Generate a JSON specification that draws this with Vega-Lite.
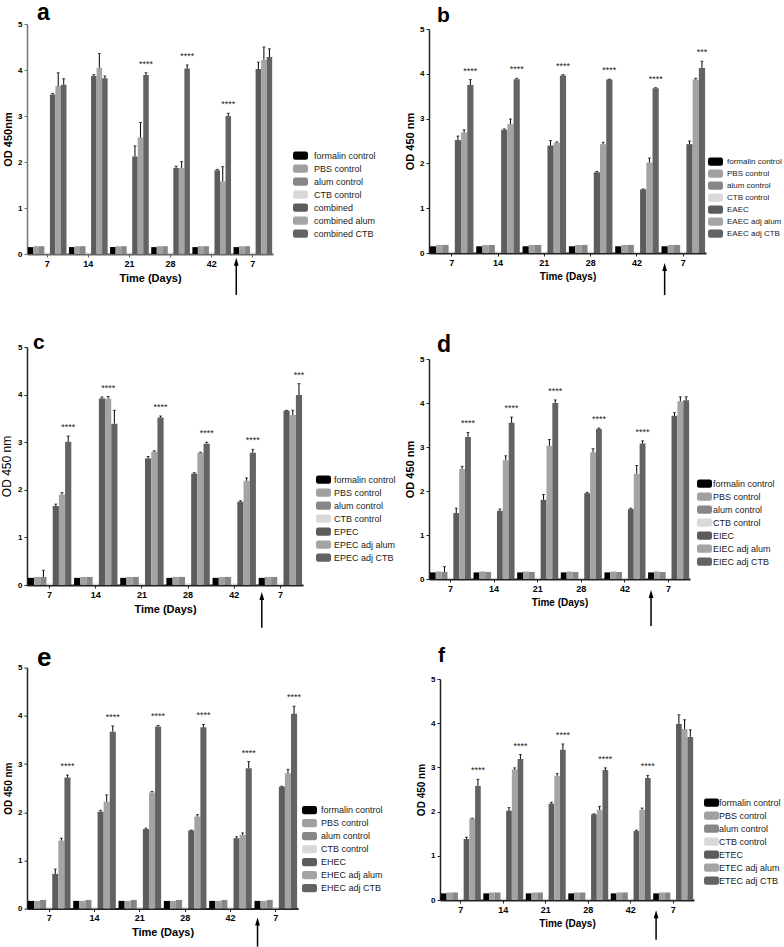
{
"$schema": "https://vega.github.io/schema/vega-lite/v6.json",
"padding": {"left": 0, "top": 1, "right": 0, "bottom": 0},
"background": "white",
"datasets": {"bars": [
{"p":"a","g":"7","k":0,"s":"formalin control","v":0.15,"e":0},{"p":"a","g":"7","k":1,"s":"PBS control","v":0.17,"e":0},{"p":"a","g":"7","k":2,"s":"alum control","v":0.17,"e":0},{"p":"a","g":"7","k":3,"s":"CTB control","v":0.03,"e":0},{"p":"a","g":"7","k":4,"s":"combined","v":3.47,"e":0.02},{"p":"a","g":"7","k":5,"s":"combined alum","v":3.65,"e":0.29},{"p":"a","g":"7","k":6,"s":"combined CTB","v":3.68,"e":0.13},
{"p":"a","g":"14","k":0,"s":"formalin control","v":0.15,"e":0},{"p":"a","g":"14","k":1,"s":"PBS control","v":0.17,"e":0},{"p":"a","g":"14","k":2,"s":"alum control","v":0.17,"e":0},{"p":"a","g":"14","k":3,"s":"CTB control","v":0.03,"e":0},{"p":"a","g":"14","k":4,"s":"combined","v":3.87,"e":0.03},{"p":"a","g":"14","k":5,"s":"combined alum","v":4.05,"e":0.31},{"p":"a","g":"14","k":6,"s":"combined CTB","v":3.82,"e":0.05},
{"p":"a","g":"21","k":0,"s":"formalin control","v":0.15,"e":0},{"p":"a","g":"21","k":1,"s":"PBS control","v":0.17,"e":0},{"p":"a","g":"21","k":2,"s":"alum control","v":0.17,"e":0},{"p":"a","g":"21","k":3,"s":"CTB control","v":0.03,"e":0},{"p":"a","g":"21","k":4,"s":"combined","v":2.12,"e":0.23},{"p":"a","g":"21","k":5,"s":"combined alum","v":2.53,"e":0.33},{"p":"a","g":"21","k":6,"s":"combined CTB","v":3.89,"e":0.05,"sig":"****"},
{"p":"a","g":"28","k":0,"s":"formalin control","v":0.15,"e":0},{"p":"a","g":"28","k":1,"s":"PBS control","v":0.17,"e":0},{"p":"a","g":"28","k":2,"s":"alum control","v":0.17,"e":0},{"p":"a","g":"28","k":3,"s":"CTB control","v":0.03,"e":0},{"p":"a","g":"28","k":4,"s":"combined","v":1.87,"e":0.04},{"p":"a","g":"28","k":5,"s":"combined alum","v":1.87,"e":0.14},{"p":"a","g":"28","k":6,"s":"combined CTB","v":4.03,"e":0.08,"sig":"****"},
{"p":"a","g":"42","k":0,"s":"formalin control","v":0.15,"e":0},{"p":"a","g":"42","k":1,"s":"PBS control","v":0.17,"e":0},{"p":"a","g":"42","k":2,"s":"alum control","v":0.17,"e":0},{"p":"a","g":"42","k":3,"s":"CTB control","v":0.03,"e":0},{"p":"a","g":"42","k":4,"s":"combined","v":1.82,"e":0.02},{"p":"a","g":"42","k":5,"s":"combined alum","v":1.58,"e":0.32},{"p":"a","g":"42","k":6,"s":"combined CTB","v":3.0,"e":0.06,"sig":"****"},
{"p":"a","g":"7b","k":0,"s":"formalin control","v":0.15,"e":0},{"p":"a","g":"7b","k":1,"s":"PBS control","v":0.17,"e":0},{"p":"a","g":"7b","k":2,"s":"alum control","v":0.17,"e":0},{"p":"a","g":"7b","k":3,"s":"CTB control","v":0.03,"e":0},{"p":"a","g":"7b","k":4,"s":"combined","v":4.02,"e":0.15},{"p":"a","g":"7b","k":5,"s":"combined alum","v":4.22,"e":0.28},{"p":"a","g":"7b","k":6,"s":"combined CTB","v":4.28,"e":0.18},

{"p":"b","g":"7","k":0,"s":"formalin control","v":0.15,"e":0},{"p":"b","g":"7","k":1,"s":"PBS control","v":0.18,"e":0},{"p":"b","g":"7","k":2,"s":"alum control","v":0.18,"e":0},{"p":"b","g":"7","k":3,"s":"CTB control","v":0.03,"e":0},{"p":"b","g":"7","k":4,"s":"EAEC","v":2.52,"e":0.09},{"p":"b","g":"7","k":5,"s":"EAEC adj alum","v":2.69,"e":0.06},{"p":"b","g":"7","k":6,"s":"EAEC adj CTB","v":3.75,"e":0.12,"sig":"****"},
{"p":"b","g":"14","k":0,"s":"formalin control","v":0.15,"e":0},{"p":"b","g":"14","k":1,"s":"PBS control","v":0.18,"e":0},{"p":"b","g":"14","k":2,"s":"alum control","v":0.18,"e":0},{"p":"b","g":"14","k":3,"s":"CTB control","v":0.03,"e":0},{"p":"b","g":"14","k":4,"s":"EAEC","v":2.75,"e":0.02},{"p":"b","g":"14","k":5,"s":"EAEC adj alum","v":2.88,"e":0.11},{"p":"b","g":"14","k":6,"s":"EAEC adj CTB","v":3.88,"e":0.02,"sig":"****"},
{"p":"b","g":"21","k":0,"s":"formalin control","v":0.15,"e":0},{"p":"b","g":"21","k":1,"s":"PBS control","v":0.18,"e":0},{"p":"b","g":"21","k":2,"s":"alum control","v":0.18,"e":0},{"p":"b","g":"21","k":3,"s":"CTB control","v":0.03,"e":0},{"p":"b","g":"21","k":4,"s":"EAEC","v":2.40,"e":0.11},{"p":"b","g":"21","k":5,"s":"EAEC adj alum","v":2.46,"e":0.02},{"p":"b","g":"21","k":6,"s":"EAEC adj CTB","v":3.96,"e":0.02,"sig":"****"},
{"p":"b","g":"28","k":0,"s":"formalin control","v":0.15,"e":0},{"p":"b","g":"28","k":1,"s":"PBS control","v":0.18,"e":0},{"p":"b","g":"28","k":2,"s":"alum control","v":0.18,"e":0},{"p":"b","g":"28","k":3,"s":"CTB control","v":0.03,"e":0},{"p":"b","g":"28","k":4,"s":"EAEC","v":1.80,"e":0.02},{"p":"b","g":"28","k":5,"s":"EAEC adj alum","v":2.43,"e":0.04},{"p":"b","g":"28","k":6,"s":"EAEC adj CTB","v":3.87,"e":0.01,"sig":"****"},
{"p":"b","g":"42","k":0,"s":"formalin control","v":0.15,"e":0},{"p":"b","g":"42","k":1,"s":"PBS control","v":0.18,"e":0},{"p":"b","g":"42","k":2,"s":"alum control","v":0.18,"e":0},{"p":"b","g":"42","k":3,"s":"CTB control","v":0.03,"e":0},{"p":"b","g":"42","k":4,"s":"EAEC","v":1.42,"e":0.01},{"p":"b","g":"42","k":5,"s":"EAEC adj alum","v":2.02,"e":0.10},{"p":"b","g":"42","k":6,"s":"EAEC adj CTB","v":3.68,"e":0.01,"sig":"****"},
{"p":"b","g":"7b","k":0,"s":"formalin control","v":0.15,"e":0},{"p":"b","g":"7b","k":1,"s":"PBS control","v":0.18,"e":0},{"p":"b","g":"7b","k":2,"s":"alum control","v":0.18,"e":0},{"p":"b","g":"7b","k":3,"s":"CTB control","v":0.03,"e":0},{"p":"b","g":"7b","k":4,"s":"EAEC","v":2.43,"e":0.07},{"p":"b","g":"7b","k":5,"s":"EAEC adj alum","v":3.87,"e":0.03},{"p":"b","g":"7b","k":6,"s":"EAEC adj CTB","v":4.13,"e":0.15,"sig":"***"},

{"p":"c","g":"7","k":0,"s":"formalin control","v":0.15,"e":0},{"p":"c","g":"7","k":1,"s":"PBS control","v":0.17,"e":0},{"p":"c","g":"7","k":2,"s":"alum control","v":0.17,"e":0.14},{"p":"c","g":"7","k":3,"s":"CTB control","v":0.03,"e":0},{"p":"c","g":"7","k":4,"s":"EPEC","v":1.66,"e":0.04},{"p":"c","g":"7","k":5,"s":"EPEC adj alum","v":1.90,"e":0.04},{"p":"c","g":"7","k":6,"s":"EPEC adj CTB","v":3.01,"e":0.12,"sig":"****"},
{"p":"c","g":"14","k":0,"s":"formalin control","v":0.15,"e":0},{"p":"c","g":"14","k":1,"s":"PBS control","v":0.17,"e":0},{"p":"c","g":"14","k":2,"s":"alum control","v":0.17,"e":0},{"p":"c","g":"14","k":3,"s":"CTB control","v":0.03,"e":0},{"p":"c","g":"14","k":4,"s":"EPEC","v":3.92,"e":0.03},{"p":"c","g":"14","k":5,"s":"EPEC adj alum","v":3.92,"e":0.04,"sig":"****"},{"p":"c","g":"14","k":6,"s":"EPEC adj CTB","v":3.39,"e":0.28},
{"p":"c","g":"21","k":0,"s":"formalin control","v":0.15,"e":0},{"p":"c","g":"21","k":1,"s":"PBS control","v":0.17,"e":0},{"p":"c","g":"21","k":2,"s":"alum control","v":0.17,"e":0},{"p":"c","g":"21","k":3,"s":"CTB control","v":0.03,"e":0},{"p":"c","g":"21","k":4,"s":"EPEC","v":2.66,"e":0.04},{"p":"c","g":"21","k":5,"s":"EPEC adj alum","v":2.80,"e":0.02},{"p":"c","g":"21","k":6,"s":"EPEC adj CTB","v":3.52,"e":0.03,"sig":"****"},
{"p":"c","g":"28","k":0,"s":"formalin control","v":0.15,"e":0},{"p":"c","g":"28","k":1,"s":"PBS control","v":0.17,"e":0},{"p":"c","g":"28","k":2,"s":"alum control","v":0.17,"e":0},{"p":"c","g":"28","k":3,"s":"CTB control","v":0.03,"e":0},{"p":"c","g":"28","k":4,"s":"EPEC","v":2.34,"e":0.02},{"p":"c","g":"28","k":5,"s":"EPEC adj alum","v":2.78,"e":0.01},{"p":"c","g":"28","k":6,"s":"EPEC adj CTB","v":2.97,"e":0.03,"sig":"****"},
{"p":"c","g":"42","k":0,"s":"formalin control","v":0.15,"e":0},{"p":"c","g":"42","k":1,"s":"PBS control","v":0.17,"e":0},{"p":"c","g":"42","k":2,"s":"alum control","v":0.17,"e":0},{"p":"c","g":"42","k":3,"s":"CTB control","v":0.03,"e":0},{"p":"c","g":"42","k":4,"s":"EPEC","v":1.75,"e":0.02},{"p":"c","g":"42","k":5,"s":"EPEC adj alum","v":2.19,"e":0.06},{"p":"c","g":"42","k":6,"s":"EPEC adj CTB","v":2.78,"e":0.07,"sig":"****"},
{"p":"c","g":"7b","k":0,"s":"formalin control","v":0.15,"e":0},{"p":"c","g":"7b","k":1,"s":"PBS control","v":0.17,"e":0},{"p":"c","g":"7b","k":2,"s":"alum control","v":0.17,"e":0},{"p":"c","g":"7b","k":3,"s":"CTB control","v":0.03,"e":0},{"p":"c","g":"7b","k":4,"s":"EPEC","v":3.66,"e":0.01},{"p":"c","g":"7b","k":5,"s":"EPEC adj alum","v":3.57,"e":0.10},{"p":"c","g":"7b","k":6,"s":"EPEC adj CTB","v":3.99,"e":0.24,"sig":"***"},

{"p":"d","g":"7","k":0,"s":"formalin control","v":0.15,"e":0},{"p":"d","g":"7","k":1,"s":"PBS control","v":0.17,"e":0},{"p":"d","g":"7","k":2,"s":"alum control","v":0.16,"e":0.12},{"p":"d","g":"7","k":3,"s":"CTB control","v":0.03,"e":0},{"p":"d","g":"7","k":4,"s":"EIEC","v":1.50,"e":0.11},{"p":"d","g":"7","k":5,"s":"EIEC adj alum","v":2.50,"e":0.06},{"p":"d","g":"7","k":6,"s":"EIEC adj CTB","v":3.23,"e":0.10,"sig":"****"},
{"p":"d","g":"14","k":0,"s":"formalin control","v":0.15,"e":0},{"p":"d","g":"14","k":1,"s":"PBS control","v":0.17,"e":0},{"p":"d","g":"14","k":2,"s":"alum control","v":0.16,"e":0},{"p":"d","g":"14","k":3,"s":"CTB control","v":0.03,"e":0},{"p":"d","g":"14","k":4,"s":"EIEC","v":1.55,"e":0.04},{"p":"d","g":"14","k":5,"s":"EIEC adj alum","v":2.70,"e":0.10},{"p":"d","g":"14","k":6,"s":"EIEC adj CTB","v":3.55,"e":0.13,"sig":"****"},
{"p":"d","g":"21","k":0,"s":"formalin control","v":0.15,"e":0},{"p":"d","g":"21","k":1,"s":"PBS control","v":0.17,"e":0},{"p":"d","g":"21","k":2,"s":"alum control","v":0.16,"e":0},{"p":"d","g":"21","k":3,"s":"CTB control","v":0.03,"e":0},{"p":"d","g":"21","k":4,"s":"EIEC","v":1.80,"e":0.12},{"p":"d","g":"21","k":5,"s":"EIEC adj alum","v":3.03,"e":0.14},{"p":"d","g":"21","k":6,"s":"EIEC adj CTB","v":4.00,"e":0.07,"sig":"****"},
{"p":"d","g":"28","k":0,"s":"formalin control","v":0.15,"e":0},{"p":"d","g":"28","k":1,"s":"PBS control","v":0.17,"e":0},{"p":"d","g":"28","k":2,"s":"alum control","v":0.16,"e":0},{"p":"d","g":"28","k":3,"s":"CTB control","v":0.03,"e":0},{"p":"d","g":"28","k":4,"s":"EIEC","v":1.95,"e":0.02},{"p":"d","g":"28","k":5,"s":"EIEC adj alum","v":2.88,"e":0.08},{"p":"d","g":"28","k":6,"s":"EIEC adj CTB","v":3.41,"e":0.02,"sig":"****"},
{"p":"d","g":"42","k":0,"s":"formalin control","v":0.15,"e":0},{"p":"d","g":"42","k":1,"s":"PBS control","v":0.17,"e":0},{"p":"d","g":"42","k":2,"s":"alum control","v":0.16,"e":0},{"p":"d","g":"42","k":3,"s":"CTB control","v":0.03,"e":0},{"p":"d","g":"42","k":4,"s":"EIEC","v":1.59,"e":0.02},{"p":"d","g":"42","k":5,"s":"EIEC adj alum","v":2.39,"e":0.19},{"p":"d","g":"42","k":6,"s":"EIEC adj CTB","v":3.08,"e":0.06,"sig":"****"},
{"p":"d","g":"7b","k":0,"s":"formalin control","v":0.15,"e":0},{"p":"d","g":"7b","k":1,"s":"PBS control","v":0.17,"e":0},{"p":"d","g":"7b","k":2,"s":"alum control","v":0.16,"e":0},{"p":"d","g":"7b","k":3,"s":"CTB control","v":0.03,"e":0},{"p":"d","g":"7b","k":4,"s":"EIEC","v":3.71,"e":0.07},{"p":"d","g":"7b","k":5,"s":"EIEC adj alum","v":4.04,"e":0.10},{"p":"d","g":"7b","k":6,"s":"EIEC adj CTB","v":4.06,"e":0.08},

{"p":"e","g":"7","k":0,"s":"formalin control","v":0.16,"e":0},{"p":"e","g":"7","k":1,"s":"PBS control","v":0.16,"e":0},{"p":"e","g":"7","k":2,"s":"alum control","v":0.18,"e":0},{"p":"e","g":"7","k":3,"s":"CTB control","v":0.03,"e":0},{"p":"e","g":"7","k":4,"s":"EHEC","v":0.72,"e":0.10},{"p":"e","g":"7","k":5,"s":"EHEC adj alum","v":1.41,"e":0.05},{"p":"e","g":"7","k":6,"s":"EHEC adj CTB","v":2.72,"e":0.05,"sig":"****"},
{"p":"e","g":"14","k":0,"s":"formalin control","v":0.16,"e":0},{"p":"e","g":"14","k":1,"s":"PBS control","v":0.16,"e":0},{"p":"e","g":"14","k":2,"s":"alum control","v":0.18,"e":0},{"p":"e","g":"14","k":3,"s":"CTB control","v":0.03,"e":0},{"p":"e","g":"14","k":4,"s":"EHEC","v":2.01,"e":0.03},{"p":"e","g":"14","k":5,"s":"EHEC adj alum","v":2.22,"e":0.14},{"p":"e","g":"14","k":6,"s":"EHEC adj CTB","v":3.67,"e":0.12,"sig":"****"},
{"p":"e","g":"21","k":0,"s":"formalin control","v":0.16,"e":0},{"p":"e","g":"21","k":1,"s":"PBS control","v":0.16,"e":0},{"p":"e","g":"21","k":2,"s":"alum control","v":0.18,"e":0},{"p":"e","g":"21","k":3,"s":"CTB control","v":0.03,"e":0},{"p":"e","g":"21","k":4,"s":"EHEC","v":1.65,"e":0.02},{"p":"e","g":"21","k":5,"s":"EHEC adj alum","v":2.41,"e":0.02},{"p":"e","g":"21","k":6,"s":"EHEC adj CTB","v":3.78,"e":0.02,"sig":"****"},
{"p":"e","g":"28","k":0,"s":"formalin control","v":0.16,"e":0},{"p":"e","g":"28","k":1,"s":"PBS control","v":0.16,"e":0},{"p":"e","g":"28","k":2,"s":"alum control","v":0.18,"e":0},{"p":"e","g":"28","k":3,"s":"CTB control","v":0.03,"e":0},{"p":"e","g":"28","k":4,"s":"EHEC","v":1.62,"e":0.01},{"p":"e","g":"28","k":5,"s":"EHEC adj alum","v":1.91,"e":0.04},{"p":"e","g":"28","k":6,"s":"EHEC adj CTB","v":3.76,"e":0.06,"sig":"****"},
{"p":"e","g":"42","k":0,"s":"formalin control","v":0.16,"e":0},{"p":"e","g":"42","k":1,"s":"PBS control","v":0.16,"e":0},{"p":"e","g":"42","k":2,"s":"alum control","v":0.18,"e":0},{"p":"e","g":"42","k":3,"s":"CTB control","v":0.03,"e":0},{"p":"e","g":"42","k":4,"s":"EHEC","v":1.46,"e":0.03},{"p":"e","g":"42","k":5,"s":"EHEC adj alum","v":1.53,"e":0.04},{"p":"e","g":"42","k":6,"s":"EHEC adj CTB","v":2.91,"e":0.14,"sig":"****"},
{"p":"e","g":"7b","k":0,"s":"formalin control","v":0.16,"e":0},{"p":"e","g":"7b","k":1,"s":"PBS control","v":0.16,"e":0},{"p":"e","g":"7b","k":2,"s":"alum control","v":0.18,"e":0},{"p":"e","g":"7b","k":3,"s":"CTB control","v":0.03,"e":0},{"p":"e","g":"7b","k":4,"s":"EHEC","v":2.53,"e":0.01},{"p":"e","g":"7b","k":5,"s":"EHEC adj alum","v":2.81,"e":0.08},{"p":"e","g":"7b","k":6,"s":"EHEC adj CTB","v":4.04,"e":0.16,"sig":"****"},

{"p":"f","g":"7","k":0,"s":"formalin control","v":0.15,"e":0},{"p":"f","g":"7","k":1,"s":"PBS control","v":0.17,"e":0},{"p":"f","g":"7","k":2,"s":"alum control","v":0.17,"e":0},{"p":"f","g":"7","k":3,"s":"CTB control","v":0.03,"e":0},{"p":"f","g":"7","k":4,"s":"ETEC","v":1.38,"e":0.04},{"p":"f","g":"7","k":5,"s":"ETEC adj alum","v":1.84,"e":0.01},{"p":"f","g":"7","k":6,"s":"ETEC adj CTB","v":2.58,"e":0.15,"sig":"****"},
{"p":"f","g":"14","k":0,"s":"formalin control","v":0.15,"e":0},{"p":"f","g":"14","k":1,"s":"PBS control","v":0.17,"e":0},{"p":"f","g":"14","k":2,"s":"alum control","v":0.17,"e":0},{"p":"f","g":"14","k":3,"s":"CTB control","v":0.03,"e":0},{"p":"f","g":"14","k":4,"s":"ETEC","v":2.02,"e":0.07},{"p":"f","g":"14","k":5,"s":"ETEC adj alum","v":2.95,"e":0.04},{"p":"f","g":"14","k":6,"s":"ETEC adj CTB","v":3.19,"e":0.10,"sig":"****"},
{"p":"f","g":"21","k":0,"s":"formalin control","v":0.15,"e":0},{"p":"f","g":"21","k":1,"s":"PBS control","v":0.17,"e":0},{"p":"f","g":"21","k":2,"s":"alum control","v":0.17,"e":0},{"p":"f","g":"21","k":3,"s":"CTB control","v":0.03,"e":0},{"p":"f","g":"21","k":4,"s":"ETEC","v":2.18,"e":0.03},{"p":"f","g":"21","k":5,"s":"ETEC adj alum","v":2.81,"e":0.05},{"p":"f","g":"21","k":6,"s":"ETEC adj CTB","v":3.40,"e":0.13,"sig":"****"},
{"p":"f","g":"28","k":0,"s":"formalin control","v":0.15,"e":0},{"p":"f","g":"28","k":1,"s":"PBS control","v":0.17,"e":0},{"p":"f","g":"28","k":2,"s":"alum control","v":0.17,"e":0},{"p":"f","g":"28","k":3,"s":"CTB control","v":0.03,"e":0},{"p":"f","g":"28","k":4,"s":"ETEC","v":1.94,"e":0.01},{"p":"f","g":"28","k":5,"s":"ETEC adj alum","v":2.04,"e":0.08},{"p":"f","g":"28","k":6,"s":"ETEC adj CTB","v":2.94,"e":0.05,"sig":"****"},
{"p":"f","g":"42","k":0,"s":"formalin control","v":0.15,"e":0},{"p":"f","g":"42","k":1,"s":"PBS control","v":0.17,"e":0},{"p":"f","g":"42","k":2,"s":"alum control","v":0.17,"e":0},{"p":"f","g":"42","k":3,"s":"CTB control","v":0.03,"e":0},{"p":"f","g":"42","k":4,"s":"ETEC","v":1.56,"e":0.02},{"p":"f","g":"42","k":5,"s":"ETEC adj alum","v":2.04,"e":0.04},{"p":"f","g":"42","k":6,"s":"ETEC adj CTB","v":2.76,"e":0.06,"sig":"****"},
{"p":"f","g":"7b","k":0,"s":"formalin control","v":0.15,"e":0},{"p":"f","g":"7b","k":1,"s":"PBS control","v":0.17,"e":0},{"p":"f","g":"7b","k":2,"s":"alum control","v":0.17,"e":0},{"p":"f","g":"7b","k":3,"s":"CTB control","v":0.03,"e":0},{"p":"f","g":"7b","k":4,"s":"ETEC","v":3.98,"e":0.21},{"p":"f","g":"7b","k":5,"s":"ETEC adj alum","v":3.87,"e":0.21},{"p":"f","g":"7b","k":6,"s":"ETEC adj CTB","v":3.69,"e":0.16}
]},
"config": {
  "font": "Liberation Sans",
  "view": {"stroke": null},
  "axis": {"grid": false, "labelColor": "#000", "titleColor": "#000", "tickSize": 3, "labelFontWeight": "bold", "titleFontWeight": "bold", "domainColor": "#222", "tickColor": "#222"},
  "axisX": {"labelAngle": 0, "labelFontSize": 9, "domainWidth": 2, "titleFontSize": 11, "titlePadding": 4, "labelPadding": 2},
  "axisY": {"labelFontSize": 8, "domainWidth": 1.5, "titleFontSize": 11, "titlePadding": 4, "labelPadding": 2},
  "legend": {"symbolType": "M-0.7,-0.55H0.7Q1,-0.55 1,-0.25V0.25Q1,0.55 0.7,0.55H-0.7Q-1,0.55 -1,0.25V-0.25Q-1,-0.55 -0.7,-0.55Z", "symbolSize": 225, "labelFontSize": 9, "labelColor": "#222", "rowPadding": -1.7, "labelOffset": 5, "padding": 0, "symbolStrokeWidth": 0},
  "title": {"anchor": "start", "fontWeight": "bold", "color": "#000", "frame": "group"}
},
"spacing": 8,
"resolve": {"scale": {"color": "independent", "x": "independent", "y": "independent", "xOffset": "independent"}, "legend": {"color": "independent"}},
"hconcat": [
{"vconcat": [
{"width": 246, "height": 230,
 "title": {"text": "a", "fontSize": 23, "offset": -4.8, "dx": 10},
 "encoding": {
  "x": {"field": "g", "type": "ordinal", "scale": {"domain": ["7","14","21","28","42","7b"], "paddingInner": 0.06, "paddingOuter": 0.02}, "axis": {"title": "Time (Days)", "labelExpr": "datum.label == '7b' ? '7' : datum.label", "domainColor": "#666", "tickColor": "#666"}},
  "xOffset": {"field": "k", "type": "ordinal", "scale": {"domain": [0,1,2,3,4,5,6], "paddingInner": 0, "paddingOuter": 0}}
 },
 "layer": [
  {"data": {"name": "bars"}, "transform": [{"filter": "datum.p == 'a'"}], "mark": {"type": "bar"},
   "encoding": {"y": {"field": "v", "type": "quantitative", "scale": {"domain": [0,5], "nice": false}, "title": "OD 450nm", "axis": {"values": [0,1,2,3,4,5], "domainColor": "#777", "tickColor": "#777"}},
    "color": {"field": "s", "type": "nominal", "scale": {"domain": ["formalin control","PBS control","alum control","CTB control","combined","combined alum","combined CTB"], "range": ["#000000","#a0a0a0","#878787","#d9d9d9","#5c5c5c","#a4a4a4","#636363"]}, "legend": {"orient": "none", "legendX": 266, "legendY": 124, "title": null, "labelOffset": 6}}}},
  {"data": {"name": "bars"}, "transform": [{"filter": "datum.p == 'a' && datum.e > 0"}, {"calculate": "datum.v + datum.e", "as": "hi"}], "mark": {"type": "rule", "color": "#000", "strokeWidth": 1},
   "encoding": {"y": {"field": "v", "type": "quantitative", "title": "OD 450nm"}, "y2": {"field": "hi"}}},
  {"data": {"name": "bars"}, "transform": [{"filter": "datum.p == 'a' && datum.e > 0"}, {"calculate": "datum.v + datum.e", "as": "hi"}], "mark": {"type": "tick", "color": "#000", "size": 3, "thickness": 1},
   "encoding": {"y": {"field": "hi", "type": "quantitative", "title": "OD 450nm"}}},
  {"data": {"name": "bars"}, "transform": [{"filter": "datum.p == 'a' && datum.sig != null"}, {"calculate": "datum.v + datum.e", "as": "hi"}], "mark": {"type": "text", "fontSize": 9, "dy": -6, "baseline": "alphabetic", "color": "#222"},
   "encoding": {"y": {"field": "hi", "type": "quantitative", "title": "OD 450nm"}, "text": {"field": "sig"}}},
  {"data": {"values": [{"g": "7b", "k": 0}]}, "mark": {"type": "rule", "color": "#000", "strokeWidth": 1.5},
   "encoding": {"y": {"datum": -0.2}, "y2": {"datum": -0.89}}},
  {"data": {"values": [{"g": "7b", "k": 0}]}, "mark": {"type": "point", "shape": "M0,-1L0.6,1L-0.6,1Z", "size": 64, "filled": true, "color": "#000", "opacity": 1},
   "encoding": {"y": {"datum": -0.17}}}
 ]},
{"vconcat": [
{"width": 276, "height": 238,
 "title": {"text": "c", "fontSize": 21, "offset": -10, "dx": 6},
 "encoding": {
  "x": {"field": "g", "type": "ordinal", "scale": {"domain": ["7","14","21","28","42","7b"], "paddingInner": 0.06, "paddingOuter": 0.02}, "axis": {"title": "Time (Days)", "labelExpr": "datum.label == '7b' ? '7' : datum.label"}},
  "xOffset": {"field": "k", "type": "ordinal", "scale": {"domain": [0,1,2,3,4,5,6], "paddingInner": 0, "paddingOuter": 0}}
 },
 "layer": [
  {"data": {"name": "bars"}, "transform": [{"filter": "datum.p == 'c'"}], "mark": {"type": "bar"},
   "encoding": {"y": {"field": "v", "type": "quantitative", "scale": {"domain": [0,5], "nice": false}, "title": "OD 450 nm", "axis": {"values": [0,1,2,3,4,5], "titleFontWeight": "normal", "titleFontSize": 12}},
    "color": {"field": "s", "type": "nominal", "scale": {"domain": ["formalin control","PBS control","alum control","CTB control","EPEC","EPEC adj alum","EPEC adj CTB"], "range": ["#000000","#a0a0a0","#878787","#d9d9d9","#5c5c5c","#a4a4a4","#636363"]}, "legend": {"orient": "none", "legendX": 289, "legendY": 125, "title": null, "labelOffset": 3}}}},
  {"data": {"name": "bars"}, "transform": [{"filter": "datum.p == 'c' && datum.e > 0"}, {"calculate": "datum.v + datum.e", "as": "hi"}], "mark": {"type": "rule", "color": "#000", "strokeWidth": 1},
   "encoding": {"y": {"field": "v", "type": "quantitative", "title": "OD 450 nm"}, "y2": {"field": "hi"}}},
  {"data": {"name": "bars"}, "transform": [{"filter": "datum.p == 'c' && datum.e > 0"}, {"calculate": "datum.v + datum.e", "as": "hi"}], "mark": {"type": "tick", "color": "#000", "size": 3, "thickness": 1},
   "encoding": {"y": {"field": "hi", "type": "quantitative", "title": "OD 450 nm"}}},
  {"data": {"name": "bars"}, "transform": [{"filter": "datum.p == 'c' && datum.sig != null"}, {"calculate": "datum.v + datum.e", "as": "hi"}], "mark": {"type": "text", "fontSize": 9, "dy": -6, "baseline": "alphabetic", "color": "#222"},
   "encoding": {"y": {"field": "hi", "type": "quantitative", "title": "OD 450 nm"}, "text": {"field": "sig"}}},
  {"data": {"values": [{"g": "7b", "k": 0}]}, "mark": {"type": "rule", "color": "#000", "strokeWidth": 1.5},
   "encoding": {"y": {"datum": -0.25}, "y2": {"datum": -0.9}}},
  {"data": {"values": [{"g": "7b", "k": 0}]}, "mark": {"type": "point", "shape": "M0,-1L0.6,1L-0.6,1Z", "size": 64, "filled": true, "color": "#000", "opacity": 1},
   "encoding": {"y": {"datum": -0.23}}}
 ]},
{"width": 271, "height": 241,
 "title": {"text": "e", "fontSize": 26, "offset": -7, "dx": 10},
 "encoding": {
  "x": {"field": "g", "type": "ordinal", "scale": {"domain": ["7","14","21","28","42","7b"], "paddingInner": 0.06, "paddingOuter": 0.02}, "axis": {"title": "Time (Days)", "labelExpr": "datum.label == '7b' ? '7' : datum.label"}},
  "xOffset": {"field": "k", "type": "ordinal", "scale": {"domain": [0,1,2,3,4,5,6], "paddingInner": 0, "paddingOuter": 0}}
 },
 "layer": [
  {"data": {"name": "bars"}, "transform": [{"filter": "datum.p == 'e'"}], "mark": {"type": "bar"},
   "encoding": {"y": {"field": "v", "type": "quantitative", "scale": {"domain": [0,5], "nice": false}, "title": "OD 450 nm", "axis": {"values": [0,1,2,3,4,5], "titleFontSize": 10}},
    "color": {"field": "s", "type": "nominal", "scale": {"domain": ["formalin control","PBS control","alum control","CTB control","EHEC","EHEC adj alum","EHEC adj CTB"], "range": ["#000000","#a0a0a0","#878787","#d9d9d9","#5c5c5c","#a4a4a4","#636363"]}, "legend": {"orient": "none", "legendX": 275, "legendY": 135, "title": null, "labelOffset": 4}}}},
  {"data": {"name": "bars"}, "transform": [{"filter": "datum.p == 'e' && datum.e > 0"}, {"calculate": "datum.v + datum.e", "as": "hi"}], "mark": {"type": "rule", "color": "#000", "strokeWidth": 1},
   "encoding": {"y": {"field": "v", "type": "quantitative", "title": "OD 450 nm"}, "y2": {"field": "hi"}}},
  {"data": {"name": "bars"}, "transform": [{"filter": "datum.p == 'e' && datum.e > 0"}, {"calculate": "datum.v + datum.e", "as": "hi"}], "mark": {"type": "tick", "color": "#000", "size": 3, "thickness": 1},
   "encoding": {"y": {"field": "hi", "type": "quantitative", "title": "OD 450 nm"}}},
  {"data": {"name": "bars"}, "transform": [{"filter": "datum.p == 'e' && datum.sig != null"}, {"calculate": "datum.v + datum.e", "as": "hi"}], "mark": {"type": "text", "fontSize": 9, "dy": -6, "baseline": "alphabetic", "color": "#222"},
   "encoding": {"y": {"field": "hi", "type": "quantitative", "title": "OD 450 nm"}, "text": {"field": "sig"}}},
  {"data": {"values": [{"g": "7b", "k": 0}]}, "mark": {"type": "rule", "color": "#000", "strokeWidth": 1.5},
   "encoding": {"y": {"datum": -0.29}, "y2": {"datum": -0.79}}},
  {"data": {"values": [{"g": "7b", "k": 0}]}, "mark": {"type": "point", "shape": "M0,-1L0.6,1L-0.6,1Z", "size": 64, "filled": true, "color": "#000", "opacity": 1},
   "encoding": {"y": {"datum": -0.27}}}
 ]}
], "spacing": 15.6, "resolve": {"scale": {"color": "independent", "x": "independent", "y": "independent", "xOffset": "independent"}, "legend": {"color": "independent"}}}
], "spacing": 36, "resolve": {"scale": {"color": "independent", "x": "independent", "y": "independent", "xOffset": "independent"}, "legend": {"color": "independent"}}},
{"vconcat": [
{"width": 277, "height": 229,
 "title": {"text": "b", "fontSize": 21, "offset": -2.4, "dx": 8},
 "encoding": {
  "x": {"field": "g", "type": "ordinal", "scale": {"domain": ["7","14","21","28","42","7b"], "paddingInner": 0.06, "paddingOuter": 0.02}, "axis": {"title": "Time (Days)", "labelExpr": "datum.label == '7b' ? '7' : datum.label", "titleFontSize": 10}},
  "xOffset": {"field": "k", "type": "ordinal", "scale": {"domain": [0,1,2,3,4,5,6], "paddingInner": 0, "paddingOuter": 0}}
 },
 "layer": [
  {"data": {"name": "bars"}, "transform": [{"filter": "datum.p == 'b'"}], "mark": {"type": "bar"},
   "encoding": {"y": {"field": "v", "type": "quantitative", "scale": {"domain": [0,5], "nice": false, "range": [229, 5]}, "title": "OD 450 nm", "axis": {"values": [0,1,2,3,4,5]}},
    "color": {"field": "s", "type": "nominal", "scale": {"domain": ["formalin control","PBS control","alum control","CTB control","EAEC","EAEC adj alum","EAEC adj CTB"], "range": ["#000000","#a0a0a0","#878787","#d9d9d9","#5c5c5c","#a4a4a4","#636363"]}, "legend": {"orient": "none", "legendX": 279, "legendY": 130, "title": null, "labelFontSize": 8, "labelOffset": 4}}}},
  {"data": {"name": "bars"}, "transform": [{"filter": "datum.p == 'b' && datum.e > 0"}, {"calculate": "datum.v + datum.e", "as": "hi"}], "mark": {"type": "rule", "color": "#000", "strokeWidth": 1},
   "encoding": {"y": {"field": "v", "type": "quantitative", "title": "OD 450 nm"}, "y2": {"field": "hi"}}},
  {"data": {"name": "bars"}, "transform": [{"filter": "datum.p == 'b' && datum.e > 0"}, {"calculate": "datum.v + datum.e", "as": "hi"}], "mark": {"type": "tick", "color": "#000", "size": 3, "thickness": 1},
   "encoding": {"y": {"field": "hi", "type": "quantitative", "title": "OD 450 nm"}}},
  {"data": {"name": "bars"}, "transform": [{"filter": "datum.p == 'b' && datum.sig != null"}, {"calculate": "datum.v + datum.e", "as": "hi"}], "mark": {"type": "text", "fontSize": 9, "dy": -6, "baseline": "alphabetic", "color": "#222"},
   "encoding": {"y": {"field": "hi", "type": "quantitative", "title": "OD 450 nm"}, "text": {"field": "sig"}}},
  {"data": {"values": [{"g": "7b", "k": 0}]}, "mark": {"type": "rule", "color": "#000", "strokeWidth": 1.5},
   "encoding": {"y": {"datum": -0.33}, "y2": {"datum": -0.94}}},
  {"data": {"values": [{"g": "7b", "k": 0}]}, "mark": {"type": "point", "shape": "M0,-1L0.6,1L-0.6,1Z", "size": 64, "filled": true, "color": "#000", "opacity": 1},
   "encoding": {"y": {"datum": -0.31}}}
 ]},
{"vconcat": [
{"width": 261, "height": 220,
 "title": {"text": "d", "fontSize": 23, "offset": -1.8, "dx": 8},
 "encoding": {
  "x": {"field": "g", "type": "ordinal", "scale": {"domain": ["7","14","21","28","42","7b"], "paddingInner": 0.06, "paddingOuter": 0.02}, "axis": {"title": "Time (Days)", "labelExpr": "datum.label == '7b' ? '7' : datum.label", "titleFontSize": 10}},
  "xOffset": {"field": "k", "type": "ordinal", "scale": {"domain": [0,1,2,3,4,5,6], "paddingInner": 0, "paddingOuter": 0}}
 },
 "layer": [
  {"data": {"name": "bars"}, "transform": [{"filter": "datum.p == 'd'"}], "mark": {"type": "bar"},
   "encoding": {"y": {"field": "v", "type": "quantitative", "scale": {"domain": [0,5], "nice": false}, "title": "OD 450 nm", "axis": {"values": [0,1,2,3,4,5]}},
    "color": {"field": "s", "type": "nominal", "scale": {"domain": ["formalin control","PBS control","alum control","CTB control","EIEC","EIEC adj alum","EIEC adj CTB"], "range": ["#000000","#a0a0a0","#878787","#d9d9d9","#5c5c5c","#a4a4a4","#636363"]}, "legend": {"orient": "none", "legendX": 268, "legendY": 117, "title": null, "labelOffset": 1}}}},
  {"data": {"name": "bars"}, "transform": [{"filter": "datum.p == 'd' && datum.e > 0"}, {"calculate": "datum.v + datum.e", "as": "hi"}], "mark": {"type": "rule", "color": "#000", "strokeWidth": 1},
   "encoding": {"y": {"field": "v", "type": "quantitative", "title": "OD 450 nm"}, "y2": {"field": "hi"}}},
  {"data": {"name": "bars"}, "transform": [{"filter": "datum.p == 'd' && datum.e > 0"}, {"calculate": "datum.v + datum.e", "as": "hi"}], "mark": {"type": "tick", "color": "#000", "size": 3, "thickness": 1},
   "encoding": {"y": {"field": "hi", "type": "quantitative", "title": "OD 450 nm"}}},
  {"data": {"name": "bars"}, "transform": [{"filter": "datum.p == 'd' && datum.sig != null"}, {"calculate": "datum.v + datum.e", "as": "hi"}], "mark": {"type": "text", "fontSize": 9, "dy": -6, "baseline": "alphabetic", "color": "#222"},
   "encoding": {"y": {"field": "hi", "type": "quantitative", "title": "OD 450 nm"}, "text": {"field": "sig"}}},
  {"data": {"values": [{"g": "7b", "k": 0}]}, "mark": {"type": "rule", "color": "#000", "strokeWidth": 1.5},
   "encoding": {"y": {"datum": -0.36}, "y2": {"datum": -1.07}}},
  {"data": {"values": [{"g": "7b", "k": 0}]}, "mark": {"type": "point", "shape": "M0,-1L0.6,1L-0.6,1Z", "size": 64, "filled": true, "color": "#000", "opacity": 1},
   "encoding": {"y": {"datum": -0.34}}}
 ]},
{"width": 265, "height": 221,
 "title": {"text": "f", "fontSize": 21, "offset": 9, "dx": 9},
 "encoding": {
  "x": {"field": "g", "type": "ordinal", "scale": {"domain": ["7","14","21","28","42","7b"], "paddingInner": 0.06, "paddingOuter": 0.02, "range": [11, 265]}, "axis": {"title": "Time (Days)", "labelExpr": "datum.label == '7b' ? '7' : datum.label", "titleFontSize": 10}},
  "xOffset": {"field": "k", "type": "ordinal", "scale": {"domain": [0,1,2,3,4,5,6], "paddingInner": 0, "paddingOuter": 0}}
 },
 "layer": [
  {"data": {"name": "bars"}, "transform": [{"filter": "datum.p == 'f'"}], "mark": {"type": "bar"},
   "encoding": {"y": {"field": "v", "type": "quantitative", "scale": {"domain": [0,5], "nice": false}, "title": "OD 450 nm", "axis": {"values": [0,1,2,3,4,5], "titleFontSize": 10, "offset": -11}},
    "color": {"field": "s", "type": "nominal", "scale": {"domain": ["formalin control","PBS control","alum control","CTB control","ETEC","ETEC adj alum","ETEC adj CTB"], "range": ["#000000","#a0a0a0","#878787","#d9d9d9","#5c5c5c","#a4a4a4","#636363"]}, "legend": {"orient": "none", "legendX": 275, "legendY": 116, "title": null, "labelOffset": 0}}}},
  {"data": {"name": "bars"}, "transform": [{"filter": "datum.p == 'f' && datum.e > 0"}, {"calculate": "datum.v + datum.e", "as": "hi"}], "mark": {"type": "rule", "color": "#000", "strokeWidth": 1},
   "encoding": {"y": {"field": "v", "type": "quantitative", "title": "OD 450 nm"}, "y2": {"field": "hi"}}},
  {"data": {"name": "bars"}, "transform": [{"filter": "datum.p == 'f' && datum.e > 0"}, {"calculate": "datum.v + datum.e", "as": "hi"}], "mark": {"type": "tick", "color": "#000", "size": 3, "thickness": 1},
   "encoding": {"y": {"field": "hi", "type": "quantitative", "title": "OD 450 nm"}}},
  {"data": {"name": "bars"}, "transform": [{"filter": "datum.p == 'f' && datum.sig != null"}, {"calculate": "datum.v + datum.e", "as": "hi"}], "mark": {"type": "text", "fontSize": 9, "dy": -6, "baseline": "alphabetic", "color": "#222"},
   "encoding": {"y": {"field": "hi", "type": "quantitative", "title": "OD 450 nm"}, "text": {"field": "sig"}}},
  {"data": {"values": [{"g": "7b", "k": 0}]}, "mark": {"type": "rule", "color": "#000", "strokeWidth": 1.5},
   "encoding": {"y": {"datum": -0.34}, "y2": {"datum": -0.9}}},
  {"data": {"values": [{"g": "7b", "k": 0}]}, "mark": {"type": "point", "shape": "M0,-1L0.6,1L-0.6,1Z", "size": 64, "filled": true, "color": "#000", "opacity": 1},
   "encoding": {"y": {"datum": -0.32}}}
 ]}
], "spacing": 18, "resolve": {"scale": {"color": "independent", "x": "independent", "y": "independent", "xOffset": "independent"}, "legend": {"color": "independent"}}}
], "spacing": 37, "resolve": {"scale": {"color": "independent", "x": "independent", "y": "independent", "xOffset": "independent"}, "legend": {"color": "independent"}}}
]
}
